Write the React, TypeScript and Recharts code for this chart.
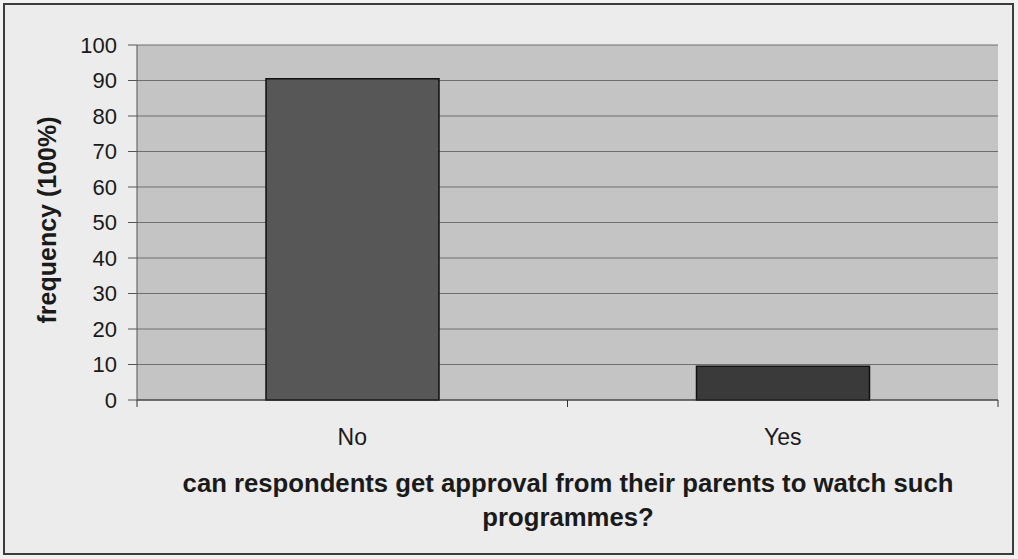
import React from "react";
import { Bar, BarChart, CartesianGrid, Cell, XAxis, YAxis } from "recharts";

const answers = ["No", "Yes"];
const frequency = [90.5, 9.5];
const yTicks = [0, 10, 20, 30, 40, 50, 60, 70, 80, 90, 100];
const barColors = ["#575757", "#3a3a3a"];

const data = answers.map((answer, i) => ({ answer, value: frequency[i] }));

const font = '"Liberation Sans", Arial, sans-serif';

// category label plus the boundary tick marks Excel puts between categories
function CategoryTick(props: any) {
  const { x, y, payload, width, visibleTicksCount, index } = props;
  const band = width / (visibleTicksCount || answers.length);
  const axisY = y - 8;
  return (
    <g>
      {index === 0 && (
        <line x1={x - band / 2} x2={x - band / 2} y1={axisY} y2={axisY + 7} stroke="#333" />
      )}
      <line x1={x + band / 2} x2={x + band / 2} y1={axisY} y2={axisY + 7} stroke="#333" />
      <text x={x} y={y + 37} textAnchor="middle" fontSize={23} fill="#1a1a1a" fontFamily={font}>
        {payload.value}
      </text>
    </g>
  );
}

export default function App() {
  return (
    <div
      style={{
        position: "absolute",
        left: 0,
        top: 0,
        width: 1018,
        height: 559,
        background: "#f2f2f2",
        fontFamily: font,
      }}
    >
      <div
        style={{
          position: "absolute",
          left: 3,
          top: 3,
          width: 1007,
          height: 548,
          border: "2px solid #3c3c3c",
          background: "#ececec",
        }}
      />
      <div style={{ position: "absolute", left: 0, top: 0 }}>
        <BarChart
          width={1018}
          height={559}
          data={data}
          margin={{ top: 45, right: 20, bottom: 129, left: 0 }}
          barSize={173}
        >
          <CartesianGrid
            vertical={false}
            stroke="#6f6f6f"
            fill="#c4c4c4"
            fillOpacity={1}
          />
          <XAxis
            dataKey="answer"
            height={30}
            axisLine={{ stroke: "#333" }}
            tickLine={false}
            tick={<CategoryTick />}
            interval={0}
          />
          <YAxis
            width={137}
            domain={[0, 100]}
            ticks={yTicks}
            interval={0}
            axisLine={{ stroke: "#555" }}
            tickLine={{ stroke: "#555" }}
            tickSize={9}
            tickMargin={11}
            tick={{ fontSize: 22, fill: "#1a1a1a", fontFamily: font }}
          />
          <Bar dataKey="value" stroke="#111" strokeWidth={1.5} isAnimationActive={false}>
            {data.map((d, i) => (
              <Cell key={d.answer} fill={barColors[i]} />
            ))}
          </Bar>
        </BarChart>
      </div>
      <div
        style={{
          position: "absolute",
          left: 47,
          top: 220,
          transform: "translate(-50%, -50%) rotate(-90deg)",
          whiteSpace: "nowrap",
          fontWeight: "bold",
          fontSize: 25,
          color: "#1a1a1a",
        }}
      >
        frequency (100%)
      </div>
      <div
        style={{
          position: "absolute",
          left: 118,
          width: 900,
          top: 466,
          textAlign: "center",
          fontWeight: "bold",
          fontSize: 25.7,
          lineHeight: "34px",
          color: "#1a1a1a",
        }}
      >
        can respondents get approval from their parents to watch such
        <br />
        programmes?
      </div>
    </div>
  );
}
